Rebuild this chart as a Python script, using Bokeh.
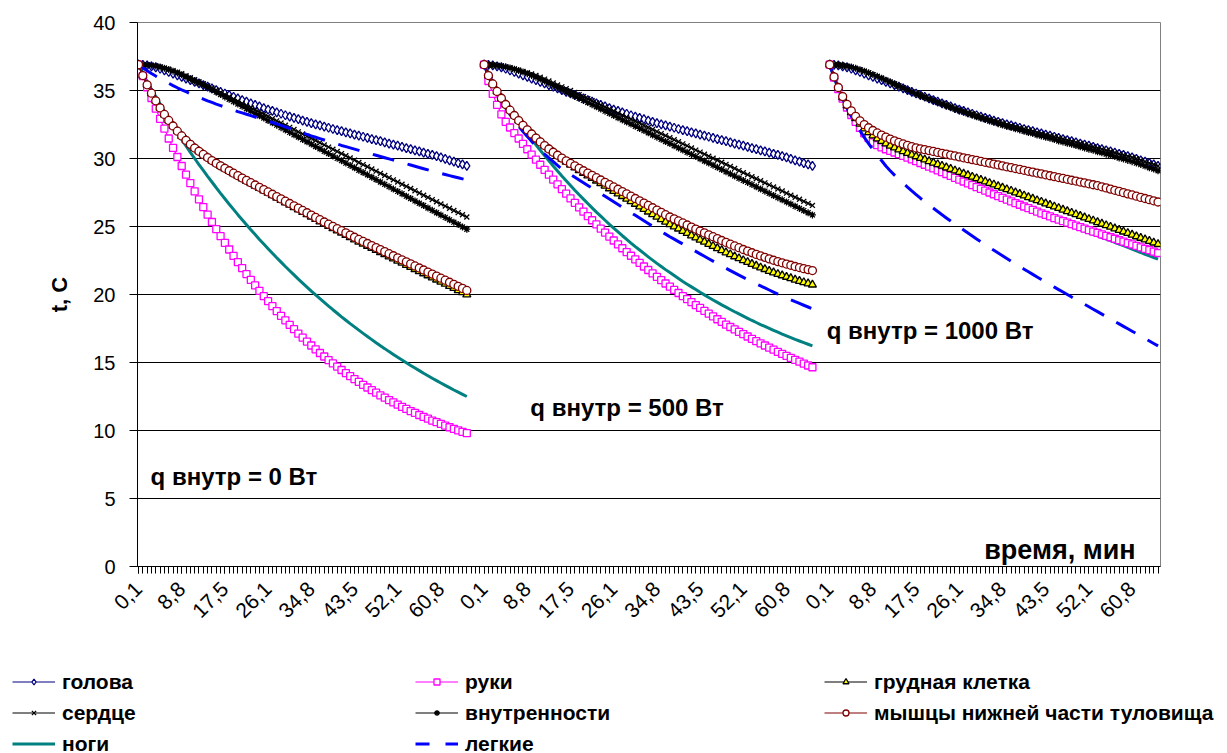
import math
from bokeh.plotting import figure
from bokeh.layouts import column
from bokeh.models import Range1d, FixedTicker, Label, Legend, LegendItem
from bokeh.embed import file_html
from bokeh.resources import INLINE

FONT = "Liberation Sans"

# ---------------- data ----------------
TIME_TICK_LABELS = ["0,1", "8,8", "17,5", "26,1", "34,8", "43,5", "52,1", "60,8"]
BLOCK_TITLES = ["q внутр = 0 Вт", "q внутр = 500 Вт", "q внутр = 1000 Вт"]
Y_TICKS = [0, 5, 10, 15, 20, 25, 30, 35, 40]
CATS_PER_BLOCK = 80
N_CATS = 237

# голова (head) -- same readings in all three regimes
head_q0 = [36.90, 36.88, 36.84, 36.78, 36.70, 36.60, 36.48, 36.36, 36.24, 36.12,
           36.00, 35.88, 35.76, 35.64, 35.52, 35.40, 35.28, 35.15, 35.03, 34.90,
           34.78, 34.66, 34.54, 34.42, 34.30, 34.18, 34.06, 33.94, 33.83, 33.71,
           33.60, 33.50, 33.39, 33.29, 33.18, 33.08, 32.98, 32.89, 32.79, 32.70,
           32.60, 32.51, 32.43, 32.34, 32.26, 32.17, 32.09, 32.01, 31.92, 31.84,
           31.76, 31.68, 31.60, 31.51, 31.43, 31.35, 31.27, 31.19, 31.10, 31.02,
           30.94, 30.86, 30.77, 30.69, 30.60, 30.52, 30.43, 30.34, 30.26, 30.17,
           30.08, 29.98, 29.87, 29.77, 29.66, 29.56, 29.45]
head_q500 = list(head_q0)
head_q1000 = list(head_q0)

# сердце (heart)
heart_q0 = [36.90, 36.89, 36.88, 36.85, 36.80, 36.73, 36.65, 36.56, 36.46, 36.35,
            36.23, 36.09, 35.95, 35.80, 35.65, 35.50, 35.34, 35.18, 35.02, 34.86,
            34.70, 34.54, 34.38, 34.21, 34.05, 33.89, 33.73, 33.57, 33.41, 33.25,
            33.09, 32.93, 32.77, 32.61, 32.45, 32.29, 32.13, 31.96, 31.80, 31.64,
            31.48, 31.32, 31.16, 31.00, 30.84, 30.68, 30.52, 30.36, 30.20, 30.04,
            29.88, 29.71, 29.55, 29.39, 29.23, 29.07, 28.91, 28.75, 28.59, 28.43,
            28.27, 28.11, 27.95, 27.79, 27.63, 27.46, 27.30, 27.14, 26.98, 26.82,
            26.66, 26.50, 26.34, 26.18, 26.02, 25.86, 25.70]
heart_q500 = [36.90, 36.89, 36.87, 36.84, 36.80, 36.74, 36.67, 36.59, 36.50, 36.41,
              36.31, 36.21, 36.10, 35.97, 35.84, 35.70, 35.55, 35.41, 35.27, 35.14,
              35.00, 34.85, 34.70, 34.55, 34.40, 34.25, 34.09, 33.94, 33.79, 33.64,
              33.49, 33.34, 33.19, 33.04, 32.89, 32.74, 32.59, 32.43, 32.28, 32.13,
              31.98, 31.83, 31.68, 31.53, 31.38, 31.23, 31.08, 30.93, 30.77, 30.62,
              30.47, 30.32, 30.17, 30.02, 29.87, 29.72, 29.57, 29.42, 29.27, 29.11,
              28.96, 28.81, 28.66, 28.51, 28.36, 28.21, 28.06, 27.91, 27.76, 27.61,
              27.45, 27.30, 27.15, 27.00, 26.85, 26.70, 26.55]
heart_q1000 = [36.90, 36.89, 36.87, 36.84, 36.79, 36.72, 36.63, 36.53, 36.42, 36.30,
               36.17, 36.04, 35.90, 35.76, 35.62, 35.48, 35.34, 35.20, 35.06, 34.92,
               34.78, 34.66, 34.54, 34.42, 34.30, 34.18, 34.06, 33.94, 33.83, 33.71,
               33.60, 33.50, 33.39, 33.29, 33.18, 33.08, 32.98, 32.89, 32.79, 32.70,
               32.60, 32.51, 32.43, 32.34, 32.26, 32.17, 32.09, 32.01, 31.92, 31.84,
               31.76, 31.68, 31.60, 31.51, 31.43, 31.35, 31.27, 31.19, 31.10, 31.02,
               30.94, 30.86, 30.77, 30.69, 30.60, 30.52, 30.43, 30.34, 30.26, 30.17,
               30.08, 29.98, 29.87, 29.77, 29.66, 29.56, 29.45]

# внутренности (viscera)
viscera_q0 = [36.90, 36.89, 36.88, 36.85, 36.80, 36.73, 36.64, 36.54, 36.42, 36.29,
              36.15, 36.00, 35.85, 35.70, 35.55, 35.40, 35.23, 35.05, 34.88, 34.70,
              34.53, 34.36, 34.18, 34.01, 33.84, 33.66, 33.49, 33.31, 33.14, 32.97,
              32.79, 32.62, 32.45, 32.27, 32.10, 31.92, 31.75, 31.58, 31.40, 31.23,
              31.06, 30.88, 30.71, 30.53, 30.36, 30.19, 30.01, 29.84, 29.66, 29.49,
              29.32, 29.14, 28.97, 28.80, 28.62, 28.45, 28.27, 28.10, 27.93, 27.75,
              27.58, 27.41, 27.23, 27.06, 26.88, 26.71, 26.54, 26.36, 26.19, 26.01,
              25.84, 25.67, 25.49, 25.32, 25.15, 24.97, 24.80]
viscera_q500 = [36.90, 36.89, 36.87, 36.84, 36.80, 36.74, 36.66, 36.57, 36.47, 36.36,
                36.24, 36.11, 35.98, 35.84, 35.69, 35.53, 35.37, 35.21, 35.05, 34.90,
                34.75, 34.59, 34.43, 34.27, 34.11, 33.96, 33.80, 33.64, 33.48, 33.32,
                33.16, 33.00, 32.84, 32.68, 32.53, 32.37, 32.21, 32.05, 31.89, 31.73,
                31.57, 31.41, 31.25, 31.10, 30.94, 30.78, 30.62, 30.46, 30.30, 30.14,
                29.98, 29.82, 29.67, 29.51, 29.35, 29.19, 29.03, 28.87, 28.71, 28.55,
                28.39, 28.24, 28.08, 27.92, 27.76, 27.60, 27.44, 27.28, 27.12, 26.96,
                26.81, 26.65, 26.49, 26.33, 26.17, 26.01, 25.85]
viscera_q1000 = [36.90, 36.89, 36.87, 36.84, 36.79, 36.72, 36.63, 36.53, 36.42, 36.30,
                 36.17, 36.04, 35.90, 35.76, 35.62, 35.48, 35.33, 35.19, 35.04, 34.90,
                 34.75, 34.63, 34.50, 34.37, 34.25, 34.12, 34.00, 33.87, 33.76, 33.63,
                 33.51, 33.41, 33.29, 33.19, 33.07, 32.97, 32.86, 32.76, 32.66, 32.56,
                 32.46, 32.36, 32.28, 32.18, 32.10, 32.00, 31.91, 31.83, 31.73, 31.65,
                 31.56, 31.48, 31.39, 31.29, 31.21, 31.12, 31.04, 30.95, 30.86, 30.77,
                 30.68, 30.60, 30.50, 30.42, 30.32, 30.24, 30.14, 30.04, 29.96, 29.86,
                 29.77, 29.66, 29.55, 29.44, 29.32, 29.22, 29.10]

# легкие (lungs)
lungs_q0 = [36.90, 36.68, 36.46, 36.25, 36.06, 35.88, 35.70, 35.53, 35.36, 35.20,
            35.05, 34.91, 34.77, 34.63, 34.50, 34.37, 34.24, 34.12, 34.00, 33.89,
            33.78, 33.67, 33.56, 33.45, 33.35, 33.25, 33.15, 33.05, 32.95, 32.85,
            32.75, 32.65, 32.54, 32.43, 32.32, 32.21, 32.10, 31.99, 31.88, 31.77,
            31.66, 31.56, 31.46, 31.36, 31.26, 31.16, 31.06, 30.96, 30.87, 30.78,
            30.69, 30.60, 30.51, 30.42, 30.33, 30.24, 30.15, 30.06, 29.97, 29.88,
            29.79, 29.70, 29.61, 29.52, 29.43, 29.34, 29.25, 29.16, 29.07, 28.98,
            28.90, 28.82, 28.74, 28.66, 28.58, 28.50, 28.42]
lungs_q500 = [36.90, 36.05, 35.38, 34.78, 34.22, 33.70, 33.22, 32.78, 32.37, 31.98,
              31.61, 31.26, 30.93, 30.62, 30.33, 30.05, 29.77, 29.49, 29.22, 29.02,
              28.82, 28.62, 28.42, 28.22, 28.02, 27.82, 27.62, 27.42, 27.22, 27.02,
              26.82, 26.62, 26.42, 26.22, 26.02, 25.82, 25.62, 25.42, 25.22, 25.02,
              24.82, 24.63, 24.44, 24.25, 24.07, 23.89, 23.71, 23.53, 23.35, 23.17,
              22.99, 22.81, 22.63, 22.45, 22.27, 22.10, 21.93, 21.76, 21.59, 21.42,
              21.26, 21.10, 20.94, 20.78, 20.63, 20.48, 20.33, 20.18, 20.03, 19.89,
              19.75, 19.61, 19.47, 19.34, 19.21, 19.08, 18.95]
lungs_q1000 = [36.90, 36.00, 35.15, 34.40, 33.70, 33.10, 32.55, 32.05, 31.55, 31.10,
               30.65, 30.25, 29.85, 29.45, 29.10, 28.78, 28.48, 28.18, 27.90, 27.62,
               27.35, 27.08, 26.83, 26.58, 26.34, 26.10, 25.86, 25.63, 25.40, 25.18,
               24.96, 24.74, 24.52, 24.30, 24.08, 23.87, 23.66, 23.45, 23.25, 23.05,
               22.85, 22.65, 22.45, 22.25, 22.05, 21.86, 21.67, 21.48, 21.29, 21.10,
               20.91, 20.72, 20.54, 20.36, 20.18, 20.00, 19.82, 19.64, 19.46, 19.28,
               19.10, 18.92, 18.74, 18.56, 18.38, 18.20, 18.02, 17.84, 17.66, 17.48,
               17.30, 17.12, 16.94, 16.76, 16.58, 16.40, 16.22]

# мышцы нижней части туловища (lower-trunk muscles)
muscle_q0 = [36.90, 36.10, 35.42, 34.80, 34.24, 33.72, 33.24, 32.80, 32.39, 32.01,
             31.66, 31.34, 31.04, 30.77, 30.53, 30.30, 30.07, 29.85, 29.65, 29.46,
             29.28, 29.10, 28.92, 28.74, 28.56, 28.39, 28.22, 28.05, 27.88, 27.71,
             27.54, 27.37, 27.20, 27.03, 26.86, 26.69, 26.52, 26.35, 26.18, 26.01,
             25.84, 25.67, 25.50, 25.33, 25.17, 25.01, 24.85, 24.69, 24.53, 24.37,
             24.21, 24.05, 23.90, 23.75, 23.60, 23.45, 23.30, 23.15, 23.00, 22.85,
             22.70, 22.55, 22.40, 22.25, 22.10, 21.95, 21.80, 21.65, 21.50, 21.35,
             21.20, 21.05, 20.90, 20.75, 20.60, 20.45, 20.30]
muscle_q500 = [36.90, 36.10, 35.48, 34.93, 34.43, 33.97, 33.55, 33.16, 32.79, 32.44,
               32.11, 31.80, 31.50, 31.22, 30.95, 30.70, 30.46, 30.24, 30.03, 29.83,
               29.64, 29.46, 29.28, 29.10, 28.93, 28.76, 28.59, 28.42, 28.25, 28.08,
               27.91, 27.74, 27.57, 27.40, 27.23, 27.06, 26.89, 26.72, 26.55, 26.38,
               26.21, 26.04, 25.87, 25.70, 25.56, 25.41, 25.26, 25.11, 24.96, 24.81,
               24.67, 24.53, 24.39, 24.25, 24.11, 23.97, 23.83, 23.70, 23.57, 23.44,
               23.31, 23.19, 23.07, 22.95, 22.84, 22.73, 22.62, 22.52, 22.42, 22.33,
               22.24, 22.15, 22.06, 21.98, 21.90, 21.83, 21.76]
muscle_q1000 = [36.90, 36.00, 35.22, 34.55, 33.98, 33.50, 33.10, 32.77, 32.49, 32.26,
                32.06, 31.88, 31.72, 31.57, 31.43, 31.30, 31.18, 31.07, 30.97, 30.87,
                30.78, 30.71, 30.65, 30.58, 30.52, 30.45, 30.38, 30.32, 30.25, 30.19,
                30.12, 30.05, 29.99, 29.92, 29.86, 29.79, 29.72, 29.66, 29.59, 29.53,
                29.46, 29.39, 29.33, 29.26, 29.20, 29.13, 29.06, 29.00, 28.93, 28.87,
                28.80, 28.73, 28.67, 28.60, 28.54, 28.47, 28.40, 28.34, 28.27, 28.21,
                28.14, 28.07, 28.01, 27.92, 27.84, 27.75, 27.66, 27.58, 27.49, 27.40,
                27.32, 27.23, 27.14, 27.06, 26.97, 26.89, 26.80]

# грудная клетка (chest)
chest_q0 = [36.90, 36.10, 35.42, 34.80, 34.24, 33.72, 33.24, 32.80, 32.39, 32.01,
            31.66, 31.34, 31.04, 30.77, 30.53, 30.30, 30.07, 29.84, 29.64, 29.45,
            29.26, 29.08, 28.89, 28.71, 28.52, 28.35, 28.17, 27.99, 27.82, 27.65,
            27.47, 27.30, 27.12, 26.95, 26.77, 26.60, 26.42, 26.25, 26.07, 25.90,
            25.72, 25.55, 25.37, 25.20, 25.03, 24.87, 24.70, 24.54, 24.37, 24.21,
            24.04, 23.88, 23.72, 23.57, 23.41, 23.26, 23.10, 22.95, 22.79, 22.64,
            22.48, 22.33, 22.17, 22.02, 21.86, 21.71, 21.55, 21.40, 21.24, 21.09,
            20.93, 20.78, 20.62, 20.47, 20.31, 20.16, 20.00]
chest_q500 = [36.90, 36.10, 35.48, 34.93, 34.43, 33.97, 33.55, 33.16, 32.79, 32.44,
              32.11, 31.80, 31.50, 31.22, 30.95, 30.70, 30.44, 30.20, 29.97, 29.75,
              29.54, 29.34, 29.14, 28.94, 28.75, 28.56, 28.37, 28.18, 27.99, 27.80,
              27.61, 27.42, 27.23, 27.04, 26.85, 26.66, 26.47, 26.28, 26.09, 25.90,
              25.71, 25.53, 25.34, 25.16, 25.00, 24.84, 24.67, 24.51, 24.34, 24.18,
              24.02, 23.87, 23.71, 23.56, 23.40, 23.25, 23.09, 22.95, 22.80, 22.66,
              22.51, 22.38, 22.24, 22.11, 21.98, 21.86, 21.73, 21.62, 21.50, 21.40,
              21.29, 21.19, 21.08, 20.99, 20.89, 20.81, 20.72]
chest_q1000 = [36.90, 36.00, 35.20, 34.50, 33.90, 33.40, 32.95, 32.55, 32.20, 31.92,
               31.68, 31.47, 31.28, 31.10, 30.94, 30.80, 30.66, 30.53, 30.40, 30.27,
               30.15, 30.03, 29.92, 29.80, 29.69, 29.57, 29.46, 29.34, 29.23, 29.11,
               29.00, 28.88, 28.77, 28.65, 28.54, 28.42, 28.31, 28.19, 28.08, 27.96,
               27.85, 27.73, 27.62, 27.50, 27.39, 27.27, 27.15, 27.04, 26.92, 26.81,
               26.69, 26.58, 26.46, 26.35, 26.23, 26.12, 26.00, 25.89, 25.77, 25.66,
               25.54, 25.43, 25.31, 25.20, 25.08, 24.97, 24.85, 24.74, 24.62, 24.51,
               24.39, 24.27, 24.16, 24.04, 23.93, 23.81, 23.70]

# руки (hands)
hands_q0 = [36.90, 36.06, 35.24, 34.45, 33.67, 32.92, 32.19, 31.47, 30.78, 30.11,
            29.45, 28.81, 28.19, 27.59, 27.00, 26.43, 25.87, 25.33, 24.81, 24.29,
            23.80, 23.31, 22.84, 22.38, 21.94, 21.50, 21.08, 20.67, 20.27, 19.88,
            19.51, 19.14, 18.78, 18.43, 18.10, 17.77, 17.45, 17.13, 16.83, 16.54,
            16.25, 15.97, 15.70, 15.44, 15.18, 14.93, 14.69, 14.45, 14.22, 14.00,
            13.78, 13.57, 13.36, 13.16, 12.97, 12.78, 12.59, 12.41, 12.24, 12.07,
            11.90, 11.74, 11.59, 11.43, 11.29, 11.14, 11.00, 10.87, 10.73, 10.61,
            10.48, 10.36, 10.24, 10.12, 10.01, 9.90, 9.80]
hands_q500 = [36.90, 35.70, 34.75, 33.95, 33.25, 32.70, 32.28, 31.87, 31.47, 31.07,
              30.68, 30.29, 29.91, 29.54, 29.17, 28.81, 28.45, 28.10, 27.75, 27.41,
              27.07, 26.74, 26.41, 26.09, 25.77, 25.46, 25.15, 24.85, 24.55, 24.26,
              23.97, 23.68, 23.40, 23.12, 22.85, 22.58, 22.32, 22.06, 21.80, 21.55,
              21.30, 21.05, 20.81, 20.58, 20.34, 20.11, 19.88, 19.66, 19.44, 19.22,
              19.01, 18.80, 18.59, 18.39, 18.18, 17.99, 17.79, 17.61, 17.43, 17.25,
              17.08, 16.91, 16.74, 16.57, 16.41, 16.25, 16.09, 15.94, 15.78, 15.63,
              15.49, 15.34, 15.20, 15.06, 14.92, 14.78, 14.65]
hands_q1000 = [36.90, 35.95, 35.10, 34.40, 33.75, 33.20, 32.70, 32.25, 31.85, 31.50,
               31.18, 30.98, 30.82, 30.68, 30.56, 30.44, 30.32, 30.19, 30.06, 29.93,
               29.80, 29.67, 29.54, 29.40, 29.27, 29.13, 29.00, 28.86, 28.72, 28.58,
               28.44, 28.31, 28.17, 28.04, 27.90, 27.77, 27.64, 27.50, 27.37, 27.24,
               27.11, 26.98, 26.85, 26.72, 26.60, 26.47, 26.35, 26.22, 26.10, 25.97,
               25.85, 25.74, 25.62, 25.51, 25.40, 25.29, 25.17, 25.06, 24.95, 24.84,
               24.74, 24.63, 24.53, 24.42, 24.31, 24.21, 24.10, 23.99, 23.89, 23.78,
               23.68, 23.57, 23.47, 23.36, 23.26, 23.15, 23.05]

# ноги (legs)
legs_q0 = [36.90, 36.25, 35.65, 35.10, 34.55, 34.00, 33.45, 32.92, 32.40, 31.90,
           31.40, 30.92, 30.45, 30.00, 29.55, 29.12, 28.69, 28.27, 27.85, 27.44,
           27.04, 26.64, 26.26, 25.87, 25.50, 25.13, 24.76, 24.41, 24.05, 23.71,
           23.37, 23.03, 22.70, 22.38, 22.06, 21.75, 21.44, 21.13, 20.84, 20.54,
           20.25, 19.97, 19.69, 19.42, 19.15, 18.88, 18.62, 18.36, 18.11, 17.86,
           17.62, 17.38, 17.14, 16.91, 16.68, 16.45, 16.23, 16.02, 15.80, 15.59,
           15.38, 15.18, 14.98, 14.78, 14.59, 14.40, 14.21, 14.03, 13.84, 13.67,
           13.49, 13.32, 13.15, 12.98, 12.82, 12.66, 12.50]
legs_q500 = [36.90, 36.20, 35.60, 35.05, 34.52, 34.03, 33.57, 33.12, 32.68, 32.25,
             31.83, 31.41, 31.00, 30.61, 30.21, 29.83, 29.45, 29.08, 28.72, 28.37,
             28.02, 27.67, 27.34, 27.01, 26.69, 26.37, 26.06, 25.76, 25.46, 25.16,
             24.88, 24.60, 24.32, 24.05, 23.78, 23.52, 23.27, 23.02, 22.77, 22.53,
             22.29, 22.06, 21.83, 21.61, 21.39, 21.17, 20.96, 20.76, 20.56, 20.36,
             20.16, 19.97, 19.78, 19.60, 19.42, 19.24, 19.07, 18.90, 18.73, 18.57,
             18.41, 18.25, 18.09, 17.94, 17.79, 17.65, 17.51, 17.37, 17.23, 17.09,
             16.96, 16.83, 16.70, 16.58, 16.46, 16.34, 16.22]
legs_q1000 = [36.90, 35.95, 35.10, 34.40, 33.75, 33.20, 32.70, 32.25, 31.85, 31.50,
              31.18, 30.98, 30.82, 30.68, 30.56, 30.44, 30.32, 30.19, 30.06, 29.93,
              29.80, 29.67, 29.54, 29.40, 29.27, 29.13, 29.00, 28.86, 28.72, 28.58,
              28.44, 28.31, 28.17, 28.04, 27.90, 27.77, 27.64, 27.50, 27.37, 27.24,
              27.11, 26.97, 26.83, 26.69, 26.56, 26.42, 26.29, 26.15, 26.02, 25.88,
              25.75, 25.63, 25.50, 25.38, 25.26, 25.14, 25.01, 24.89, 24.77, 24.65,
              24.54, 24.42, 24.31, 24.19, 24.07, 23.96, 23.84, 23.71, 23.59, 23.46,
              23.34, 23.21, 23.09, 22.96, 22.85, 22.72, 22.60]

SERIES = [
    dict(name="голова", color="#000080", marker="diamond", fill="white", size=9,
         width=1.2, dash="solid", data=(head_q0, head_q500, head_q1000)),
    dict(name="руки", color="#FF00FF", marker="square", fill="white", size=7,
         width=1.2, dash="solid", data=(hands_q0, hands_q500, hands_q1000)),
    dict(name="грудная клетка", color="black", marker="triangle", fill="#FFFF00", size=8,
         width=1.2, dash="solid", data=(chest_q0, chest_q500, chest_q1000)),
    dict(name="сердце", color="black", marker="x", fill=None, size=7,
         width=1.2, dash="solid", data=(heart_q0, heart_q500, heart_q1000)),
    dict(name="внутренности", color="black", marker="asterisk", fill=None, size=7,
         width=1.2, dash="solid", data=(viscera_q0, viscera_q500, viscera_q1000)),
    dict(name="мышцы нижней части туловища", color="#800000", marker="circle", fill="white",
         size=8, width=1.2, dash="solid", data=(muscle_q0, muscle_q500, muscle_q1000)),
    dict(name="ноги", color="#008080", marker=None, fill=None, size=0,
         width=3, dash="solid", data=(legs_q0, legs_q500, legs_q1000)),
    dict(name="легкие", color="#0000FF", marker=None, fill=None, size=0,
         width=3, dash="22 14", data=(lungs_q0, lungs_q500, lungs_q1000)),
]
DRAW_ORDER = ["ноги", "голова", "руки", "грудная клетка", "сердце", "внутренности",
              "легкие", "мышцы нижней части туловища"]
LEGEND_COLUMNS = [["голова", "сердце", "ноги"],
                  ["руки", "внутренности", "легкие"],
                  ["грудная клетка", "мышцы нижней части туловища"]]

# ---------------- main figure ----------------
W = 1219
PH = 668
p = figure(width=W, height=PH,
           x_range=Range1d(-0.23, 236.57), y_range=Range1d(0, 40),
           output_backend="svg", toolbar_location=None,
           min_border_left=137, min_border_right=W - 1160,
           min_border_top=22, min_border_bottom=PH - 566)
p.frame_align = False
p.background_fill_color = "white"
p.border_fill_color = "white"
p.outline_line_color = "#808080"

by_name = {s["name"]: s for s in SERIES}
for name in DRAW_ORDER:
    s = by_name[name]
    for b, vals in enumerate(s["data"]):
        xs = [b * CATS_PER_BLOCK + i for i in range(len(vals))]
        p.line(xs, vals, line_color=s["color"], line_width=s["width"], line_dash=s["dash"])
        if s["marker"]:
            p.scatter(xs, vals, marker=s["marker"], size=s["size"],
                      line_color=s["color"], line_width=1.3,
                      fill_color=s["fill"] if s["fill"] else None)

# axes
p.xgrid.grid_line_color = None
major_x = list(range(0, N_CATS, 10))
p.xaxis.ticker = FixedTicker(ticks=major_x, minor_ticks=list(range(0, N_CATS)))
p.xaxis.major_label_overrides = {t: TIME_TICK_LABELS[(t % CATS_PER_BLOCK) // 10] for t in major_x}
p.xaxis.major_label_orientation = math.pi / 4
p.xaxis.major_tick_in = 0
p.xaxis.major_tick_out = 7
p.xaxis.minor_tick_in = 0
p.xaxis.minor_tick_out = 7
p.xaxis.axis_line_color = "black"
p.xaxis.major_tick_line_color = "black"
p.xaxis.minor_tick_line_color = "black"
p.xaxis.major_label_text_font = FONT
p.xaxis.major_label_text_font_size = "21px"
p.xaxis.major_label_text_color = "black"
p.xaxis.major_label_standoff = 12

p.yaxis.ticker = FixedTicker(ticks=Y_TICKS)
p.ygrid.ticker = FixedTicker(ticks=Y_TICKS)
p.ygrid.grid_line_color = "black"
p.ygrid.grid_line_width = 1
p.yaxis.axis_line_color = "black"
p.yaxis.major_tick_line_color = "black"
p.yaxis.minor_tick_line_color = None
p.yaxis.major_tick_in = 0
p.yaxis.major_tick_out = 8
p.yaxis.major_label_text_font = FONT
p.yaxis.major_label_text_font_size = "20px"
p.yaxis.major_label_text_color = "black"
p.yaxis.major_label_standoff = 14
p.yaxis.axis_label = "t, C"
p.yaxis.axis_label_text_font = FONT
p.yaxis.axis_label_text_font_style = "bold"
p.yaxis.axis_label_text_font_size = "22px"
p.yaxis.axis_label_text_color = "black"
p.yaxis.axis_label_standoff = 18

# annotations
for (x, y), txt in zip([(2.8, 6.6), (90.7, 11.7), (159.3, 17.35)], BLOCK_TITLES):
    p.add_layout(Label(x=x, y=y, text=txt, text_font=FONT, text_font_style="bold",
                       text_font_size="24px", text_baseline="middle", text_align="left",
                       text_color="black"))
p.add_layout(Label(x=230.8, y=1.25, text="время, мин", text_font=FONT,
                   text_font_style="bold", text_font_size="27px",
                   text_baseline="middle", text_align="right", text_color="black"))

# ---------------- legend strip ----------------
LH = 85
q = figure(width=W, height=LH, x_range=Range1d(0, 1), y_range=Range1d(1000, 1001),
           output_backend="svg", toolbar_location=None,
           x_axis_type=None, y_axis_type=None,
           min_border_left=0, min_border_right=0, min_border_top=0, min_border_bottom=0)
q.frame_align = False
q.outline_line_color = None
q.grid.visible = False
q.background_fill_color = "white"
q.border_fill_color = "white"

# legend glyph sources: the first regime's series, outside this strip's visible range
legend_items = {}
for s in SERIES:
    vals = s["data"][0]
    xs = list(range(len(vals)))
    rends = [q.line(xs, vals, line_color=s["color"], line_width=s["width"],
                    line_dash="14 16" if s["dash"] != "solid" else "solid")]
    if s["marker"]:
        rends.append(q.scatter(xs, vals, marker=s["marker"], size=s["size"],
                               line_color=s["color"], line_width=1.3,
                               fill_color=s["fill"] if s["fill"] else None))
    legend_items[s["name"]] = rends

for col_x, names in zip([12, 415, 824], LEGEND_COLUMNS):
    n = len(names)
    height = n * 25 + (n - 1) * 6
    leg = Legend(items=[LegendItem(label=nm, renderers=legend_items[nm]) for nm in names],
                 location=(col_x, LH - 1 - height), orientation="vertical",
                 glyph_width=43, glyph_height=15, label_height=25,
                 label_standoff=7, spacing=6, padding=0, margin=0,
                 border_line_color=None, background_fill_alpha=0,
                 label_text_font=FONT, label_text_font_style="bold",
                 label_text_font_size="21px", label_text_color="black")
    q.add_layout(leg, "center")

layout = column(p, q, spacing=0)

with open("out.html", "w", encoding="utf-8") as f:
    f.write(file_html(layout, INLINE, title="chart"))
